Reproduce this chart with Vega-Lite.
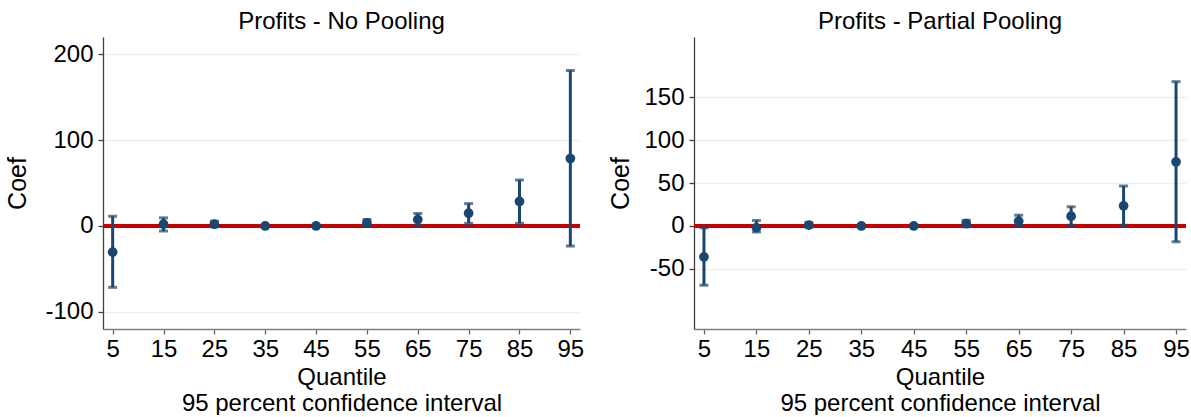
{
  "$schema": "https://vega.github.io/schema/vega-lite/v6.json",
  "padding": {"left": 5, "top": 10, "right": 0, "bottom": 0},
  "background": "white",
  "datasets": {
    "np": [
      {"q": 5, "coef": -30.5, "lo": -71.5, "hi": 11.3},
      {"q": 15, "coef": 2, "lo": -5.9, "hi": 9.4},
      {"q": 25, "coef": 2, "lo": -1, "hi": 5.5},
      {"q": 35, "coef": 0, "lo": -1, "hi": 1},
      {"q": 45, "coef": 0, "lo": -1, "hi": 1},
      {"q": 55, "coef": 3.5, "lo": 0, "hi": 7.4},
      {"q": 65, "coef": 7.4, "lo": 0.8, "hi": 14.5},
      {"q": 75, "coef": 14.8, "lo": 3, "hi": 26},
      {"q": 85, "coef": 28.5, "lo": 3, "hi": 53.5},
      {"q": 95, "coef": 78.5, "lo": -23.4, "hi": 181}
    ],
    "pp": [
      {"q": 5, "coef": -36, "lo": -69, "hi": -2.3},
      {"q": 15, "coef": -2, "lo": -7, "hi": 6.3},
      {"q": 25, "coef": 1, "lo": -1.5, "hi": 4},
      {"q": 35, "coef": 0, "lo": -1, "hi": 1},
      {"q": 45, "coef": 0, "lo": -1, "hi": 1},
      {"q": 55, "coef": 2.7, "lo": -1, "hi": 6.6},
      {"q": 65, "coef": 5.5, "lo": 0.4, "hi": 12.5},
      {"q": 75, "coef": 11.3, "lo": 0.8, "hi": 22.3},
      {"q": 85, "coef": 23.4, "lo": 0.8, "hi": 46.5},
      {"q": 95, "coef": 74.6, "lo": -18.4, "hi": 168}
    ]
  },
  "config": {
    "font": "Liberation Sans",
    "view": {"stroke": null},
    "title": {"fontSize": 24, "fontWeight": "normal", "color": "black", "offset": 3, "font": "Liberation Sans"},
    "axis": {
      "labelFont": "Liberation Sans",
      "titleFont": "Liberation Sans",
      "labelFontSize": 24,
      "titleFontSize": 24,
      "titleFontWeight": "normal",
      "labelColor": "black",
      "titleColor": "black",
      "domainWidth": 1.3,
      "tickWidth": 1.3,
      "tickSize": 5,
      "gridColor": "#eaf1f2",
      "gridWidth": 1.5
    },
    "axisX": {"domainColor": "#808080", "tickColor": "#666666"},
    "axisY": {"domainColor": "#404040", "tickColor": "#404040"},
    "concat": {"spacing": 114}
  },
  "bounds": "flush",
  "hconcat": [
    {
      "width": 477,
      "height": 292,
      "title": "Profits - No Pooling",
      "data": {"name": "np"},
      "encoding": {
        "x": {"field": "q", "type": "quantitative",
          "scale": {"domain": [3.1, 96.9], "nice": false, "zero": false},
          "axis": {"values": [5, 15, 25, 35, 45, 55, 65, 75, 85, 95], "grid": false, "title": ["Quantile", "95 percent confidence interval"], "titleLineHeight": 26, "labelPadding": 3, "titlePadding": 4, "labelFlush": false}}
      },
      "layer": [
        {"mark": {"type": "rule", "color": "#c40000", "strokeWidth": 3.5},
         "encoding": {"x": null, "y": {"datum": 0, "type": "quantitative", "scale": {"domain": [-120, 220], "nice": false, "zero": false},
           "axis": {"values": [-100, 0, 100, 200], "labelExpr": "'' + datum.value", "title": "Coef", "titleFontSize": 25, "labelPadding": 5, "titlePadding": 14, "grid": true}}}},
        {"mark": {"type": "rule", "color": "#1a476f", "strokeWidth": 3},
         "encoding": {"y": {"field": "lo", "type": "quantitative"}, "y2": {"field": "hi"}}},
        {"mark": {"type": "tick", "orient": "horizontal", "color": "#1a476f", "size": 9, "thickness": 3},
         "encoding": {"y": {"field": "lo", "type": "quantitative"}}},
        {"mark": {"type": "tick", "orient": "horizontal", "color": "#1a476f", "size": 9, "thickness": 3},
         "encoding": {"y": {"field": "hi", "type": "quantitative"}}},
        {"mark": {"type": "point", "filled": true, "shape": "circle", "size": 95, "color": "#1a476f", "opacity": 1},
         "encoding": {"y": {"field": "coef", "type": "quantitative"}}}
      ]
    },
    {
      "width": 492,
      "height": 292,
      "title": "Profits - Partial Pooling",
      "data": {"name": "pp"},
      "encoding": {
        "x": {"field": "q", "type": "quantitative",
          "scale": {"domain": [3.1, 96.9], "nice": false, "zero": false},
          "axis": {"values": [5, 15, 25, 35, 45, 55, 65, 75, 85, 95], "grid": false, "title": ["Quantile", "95 percent confidence interval"], "titleLineHeight": 26, "labelPadding": 3, "titlePadding": 4, "labelFlush": false}}
      },
      "layer": [
        {"mark": {"type": "rule", "color": "#c40000", "strokeWidth": 3.5},
         "encoding": {"x": null, "y": {"datum": 0, "type": "quantitative", "scale": {"domain": [-120, 220], "nice": false, "zero": false},
           "axis": {"values": [-50, 0, 50, 100, 150], "labelExpr": "'' + datum.value", "title": "Coef", "titleFontSize": 25, "labelPadding": 5, "titlePadding": 10, "grid": true}}}},
        {"mark": {"type": "rule", "color": "#1a476f", "strokeWidth": 3},
         "encoding": {"y": {"field": "lo", "type": "quantitative"}, "y2": {"field": "hi"}}},
        {"mark": {"type": "tick", "orient": "horizontal", "color": "#1a476f", "size": 9, "thickness": 3},
         "encoding": {"y": {"field": "lo", "type": "quantitative"}}},
        {"mark": {"type": "tick", "orient": "horizontal", "color": "#1a476f", "size": 9, "thickness": 3},
         "encoding": {"y": {"field": "hi", "type": "quantitative"}}},
        {"mark": {"type": "point", "filled": true, "shape": "circle", "size": 95, "color": "#1a476f", "opacity": 1},
         "encoding": {"y": {"field": "coef", "type": "quantitative"}}}
      ]
    }
  ]
}
